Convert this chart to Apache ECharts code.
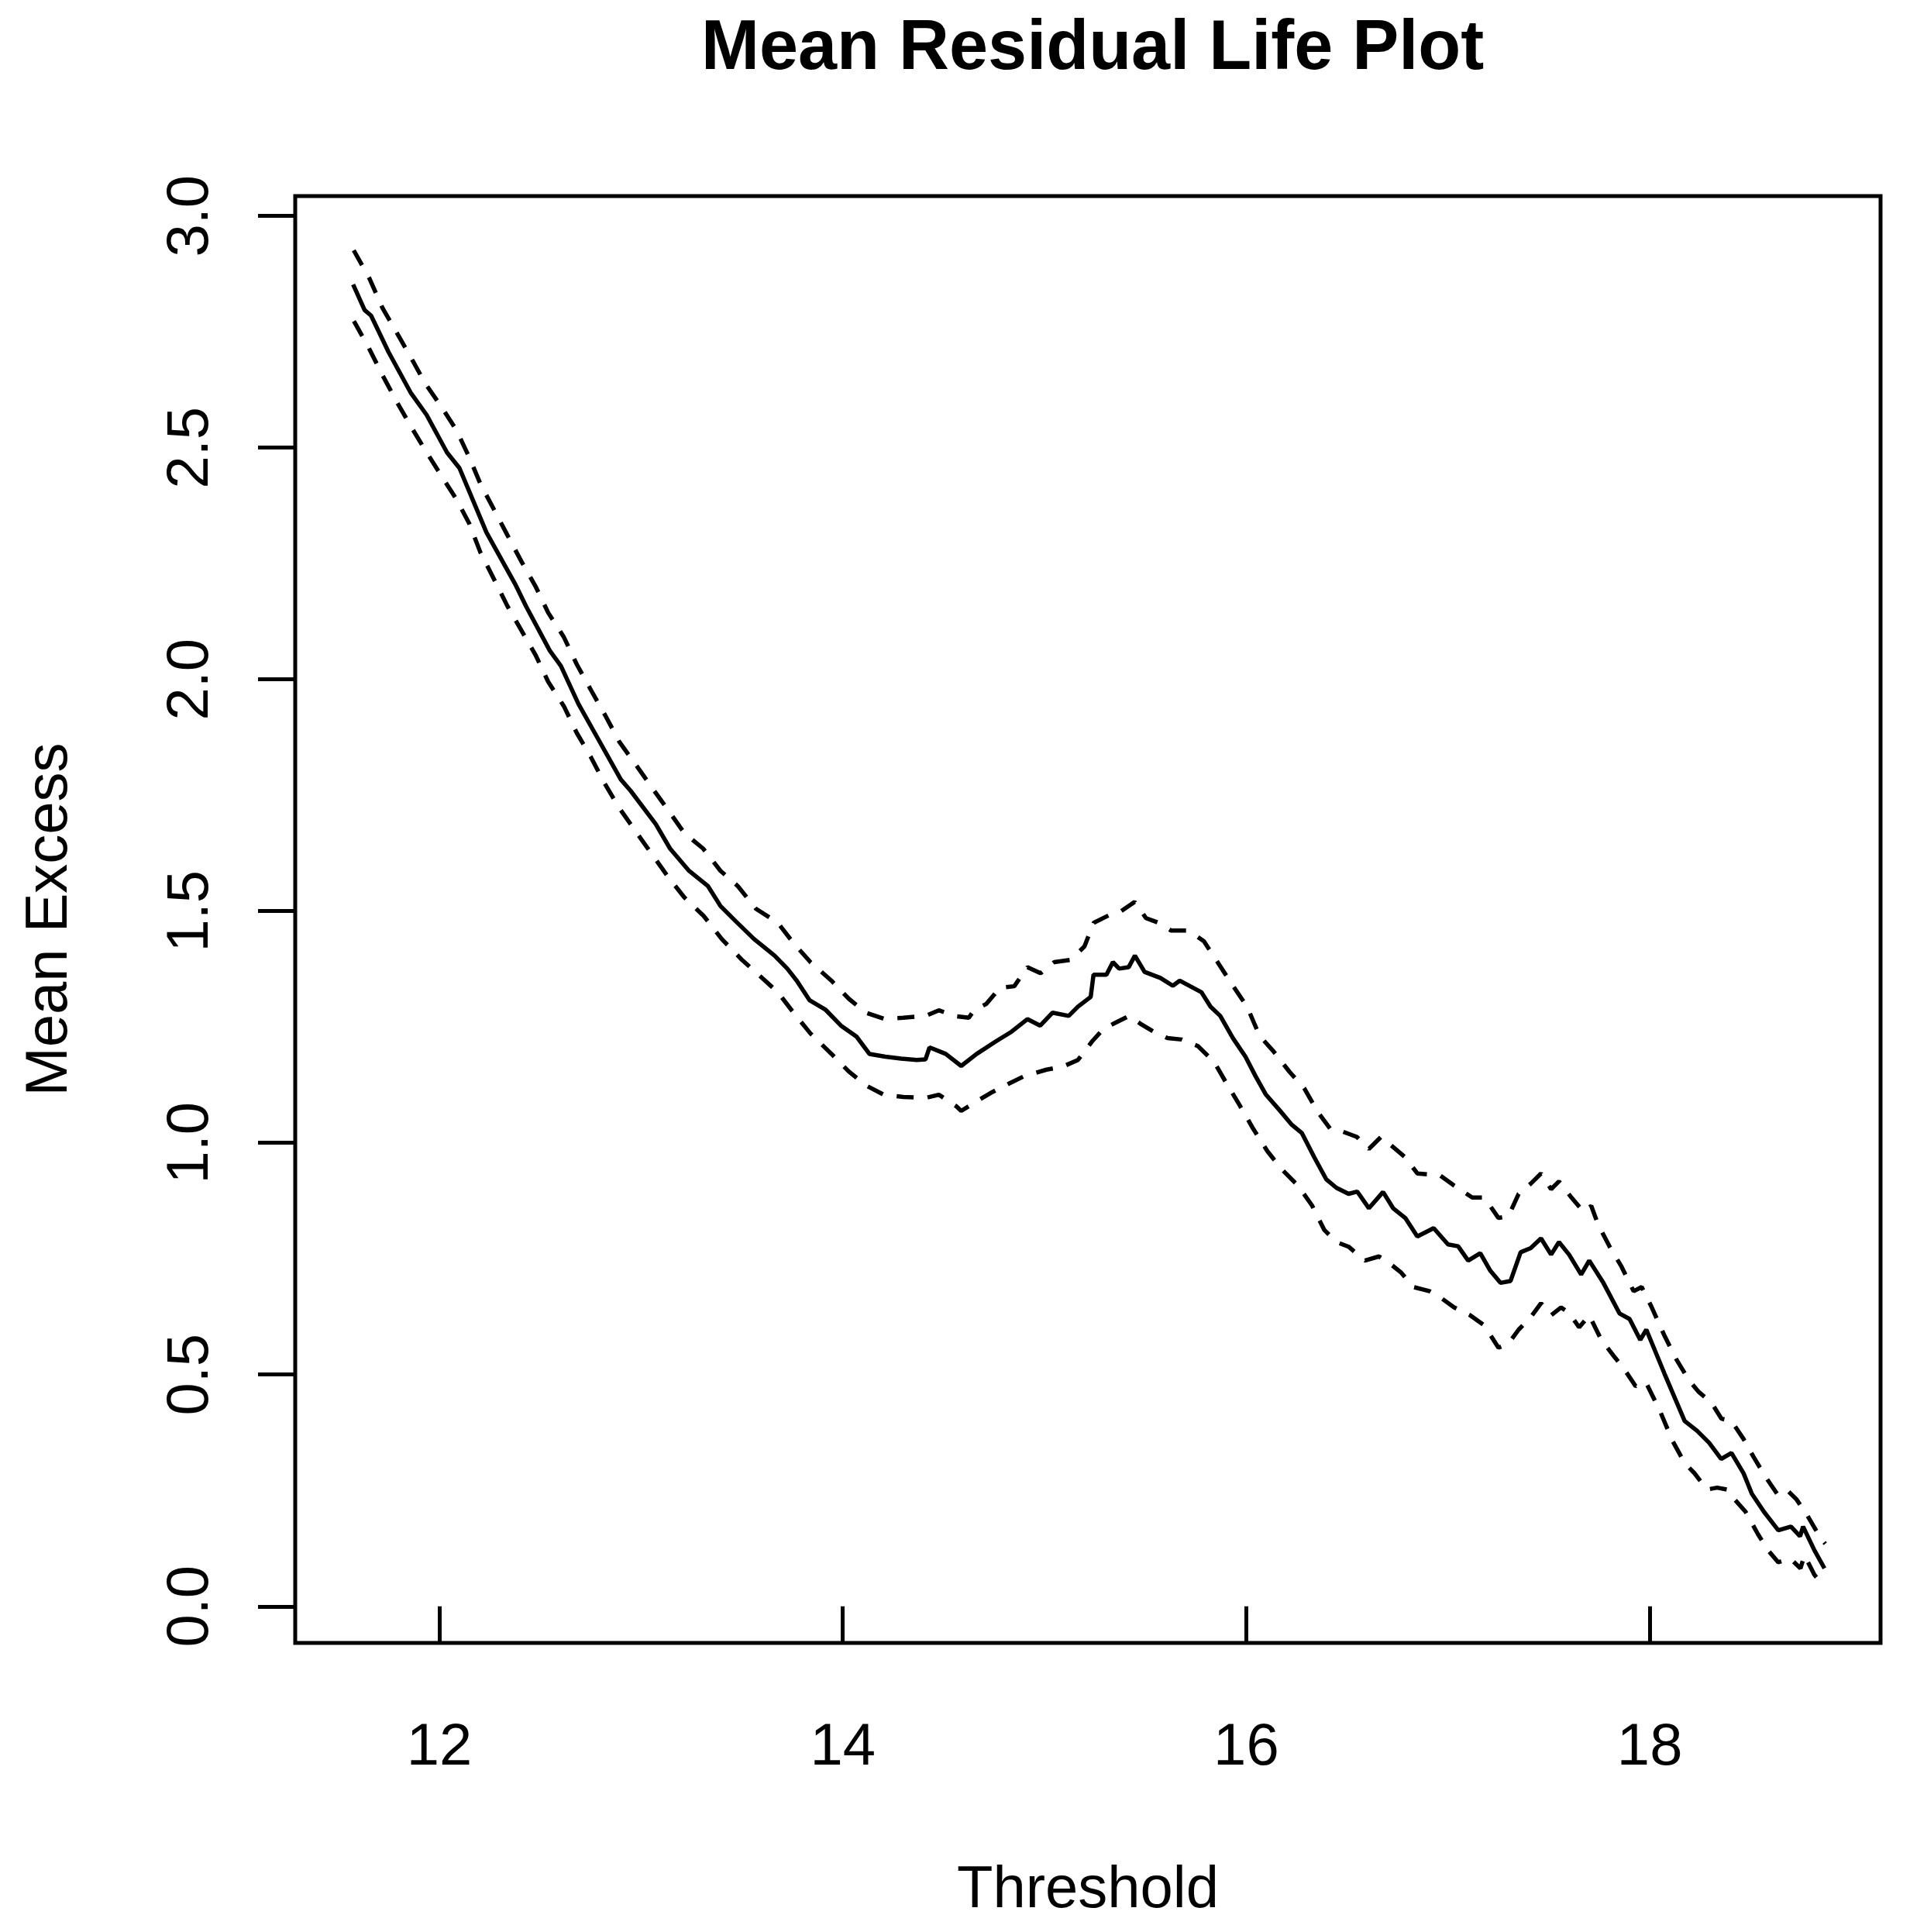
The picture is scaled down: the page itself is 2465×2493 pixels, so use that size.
<!DOCTYPE html>
<html>
<head>
<meta charset="utf-8">
<title>Mean Residual Life Plot</title>
<script src="https://cdn.jsdelivr.net/npm/echarts@6/dist/echarts.min.js"></script>
<style>
  html, body { margin: 0; padding: 0; background: #fff; }
  #chart { width: 2465px; height: 2493px; }
</style>
</head>
<body>
<div id="chart"></div>
<script>
// tick positions
var xTicks = [12, 14, 16, 18];
var yTicks = [0, 0.5, 1, 1.5, 2, 2.5, 3];

// mean excess (solid line)
var meanX = [11.573, 11.63, 11.662, 11.749, 11.858, 11.937, 12.038, 12.10, 12.234, 12.376, 12.43, 12.548, 12.603, 12.69, 12.783, 12.90, 12.948, 13.073, 13.144, 13.238, 13.332, 13.394, 13.47, 13.56,
  13.662, 13.725, 13.772, 13.835, 13.913, 13.991, 14.069, 14.132, 14.211, 14.289, 14.367, 14.41, 14.43, 14.51, 14.587, 14.664, 14.759, 14.837, 14.915, 14.979, 15.04, 15.12, 15.166, 15.229, 15.243, 15.307, 15.339, 15.37, 15.417, 15.448, 15.496, 15.574, 15.636, 15.67, 15.778, 15.823, 15.871, 15.934, 15.996,
  16.046, 16.096, 16.166, 16.226, 16.276, 16.337, 16.397, 16.447, 16.507, 16.55, 16.608, 16.678, 16.728, 16.788, 16.848, 16.929, 17.0, 17.05, 17.10, 17.16, 17.21, 17.26, 17.31, 17.36, 17.41, 17.461, 17.511, 17.55, 17.60, 17.66, 17.70, 17.77, 17.85, 17.90, 17.953, 17.983,
  18.073, 18.173, 18.234, 18.294, 18.354, 18.405, 18.465, 18.506, 18.566, 18.637, 18.70, 18.745, 18.76, 18.816, 18.866];
var meanY = [2.852, 2.797, 2.785, 2.706, 2.619, 2.571, 2.490, 2.456, 2.317, 2.206, 2.158, 2.062, 2.029, 1.947, 1.875, 1.784, 1.760, 1.688, 1.635, 1.587, 1.554, 1.511, 1.478, 1.440,
  1.404, 1.376, 1.350, 1.308, 1.288, 1.253, 1.229, 1.192, 1.186, 1.182, 1.179, 1.180, 1.206, 1.192, 1.166, 1.192, 1.219, 1.240, 1.267, 1.253, 1.281, 1.274, 1.294, 1.315, 1.363, 1.363, 1.390, 1.376, 1.379, 1.404, 1.369, 1.356, 1.339, 1.350, 1.325, 1.294, 1.274, 1.226, 1.186,
  1.144, 1.105, 1.070, 1.039, 1.021, 0.969, 0.921, 0.903, 0.890, 0.895, 0.859, 0.894, 0.859, 0.838, 0.798, 0.816, 0.781, 0.777, 0.746, 0.762, 0.724, 0.698, 0.702, 0.764, 0.773, 0.794, 0.759, 0.786, 0.759, 0.716, 0.746, 0.698, 0.632, 0.620, 0.575, 0.597,
  0.502, 0.400, 0.379, 0.353, 0.318, 0.331, 0.287, 0.243, 0.204, 0.164, 0.172, 0.151, 0.172, 0.121, 0.082];

// upper confidence bound (dashed)
var upperX = [11.576, 11.654, 11.718, 11.788, 11.858, 11.93, 12.008, 12.085, 12.149, 12.204, 12.273, 12.337, 12.408, 12.477, 12.54, 12.618, 12.681, 12.752, 12.822, 12.893, 12.971, 13.057, 13.136, 13.214, 13.308, 13.394, 13.48, 13.57,
  13.678, 13.756, 13.84, 13.944, 14.03, 14.115, 14.203, 14.30, 14.41, 14.476, 14.563, 14.625, 14.65, 14.712, 14.78, 14.85, 14.915, 14.98, 15.048, 15.13, 15.198, 15.244, 15.323, 15.37, 15.447, 15.503, 15.565, 15.628, 15.714, 15.79, 15.864, 15.934, 16.004,
  16.066, 16.136, 16.215, 16.287, 16.357, 16.417, 16.467, 16.548, 16.608, 16.668, 16.728, 16.788, 16.848, 16.96, 17.03, 17.12, 17.18, 17.25, 17.30, 17.35, 17.41, 17.461, 17.511, 17.55, 17.612, 17.672, 17.71, 17.743, 17.80, 17.86, 17.92, 17.96,
  18.01, 18.073, 18.133, 18.194, 18.244, 18.305, 18.355, 18.405, 18.465, 18.515, 18.576, 18.637, 18.687, 18.727, 18.777, 18.847, 18.87];
var upperY = [2.926, 2.865, 2.802, 2.749, 2.696, 2.639, 2.590, 2.538, 2.479, 2.422, 2.365, 2.312, 2.254, 2.201, 2.144, 2.091, 2.033, 1.977, 1.923, 1.865, 1.818, 1.765, 1.717, 1.669, 1.635, 1.587, 1.554, 1.505,
  1.475, 1.431, 1.390, 1.350, 1.311, 1.281, 1.268, 1.270, 1.274, 1.286, 1.273, 1.270, 1.286, 1.300, 1.335, 1.338, 1.379, 1.366, 1.390, 1.395, 1.424, 1.475, 1.492, 1.497, 1.520, 1.485, 1.475, 1.458, 1.458, 1.435, 1.386, 1.339, 1.294,
  1.231, 1.197, 1.153, 1.118, 1.065, 1.030, 1.026, 1.013, 0.987, 1.013, 0.991, 0.969, 0.934, 0.930, 0.908, 0.882, 0.882, 0.838, 0.842, 0.890, 0.912, 0.934, 0.900, 0.917, 0.882, 0.851, 0.864, 0.825, 0.777, 0.733, 0.680, 0.689,
  0.645, 0.584, 0.532, 0.488, 0.462, 0.440, 0.405, 0.400, 0.361, 0.322, 0.278, 0.239, 0.248, 0.231, 0.199, 0.147, 0.135];

// lower confidence bound (dashed)
var lowerX = [11.577, 11.65, 11.718, 11.788, 11.858, 11.93, 12.008, 12.085, 12.149, 12.204, 12.273, 12.337, 12.408, 12.477, 12.54, 12.618, 12.681, 12.752, 12.822, 12.893, 12.979, 13.057, 13.136, 13.214, 13.31, 13.40, 13.50, 13.59,
  13.678, 13.756, 13.84, 13.944, 14.03, 14.115, 14.203, 14.30, 14.41, 14.476, 14.563, 14.587, 14.665, 14.743, 14.82, 14.899, 15.01, 15.088, 15.166, 15.236, 15.292, 15.355, 15.42, 15.479, 15.54, 15.61, 15.68, 15.76, 15.84, 15.90, 15.965,
  16.035, 16.105, 16.176, 16.256, 16.326, 16.387, 16.447, 16.507, 16.588, 16.658, 16.708, 16.768, 16.828, 16.909, 16.97, 17.03, 17.11, 17.18, 17.25, 17.30, 17.35, 17.41, 17.461, 17.511, 17.56, 17.60, 17.65, 17.70, 17.76, 17.82, 17.87, 17.93, 17.98,
  18.05, 18.113, 18.173, 18.22, 18.284, 18.334, 18.384, 18.42, 18.475, 18.536, 18.586, 18.637, 18.697, 18.747, 18.767, 18.816, 18.866];
var lowerY = [2.773, 2.716, 2.657, 2.600, 2.547, 2.495, 2.441, 2.389, 2.336, 2.274, 2.215, 2.159, 2.105, 2.053, 1.995, 1.942, 1.885, 1.832, 1.774, 1.722, 1.669, 1.621, 1.573, 1.530, 1.490, 1.440, 1.395, 1.360,
  1.325, 1.281, 1.236, 1.192, 1.154, 1.124, 1.104, 1.099, 1.097, 1.104, 1.079, 1.069, 1.090, 1.110, 1.127, 1.144, 1.158, 1.164, 1.179, 1.219, 1.246, 1.260, 1.274, 1.256, 1.240, 1.226, 1.223, 1.209, 1.175, 1.130, 1.083,
  1.030, 0.982, 0.943, 0.908, 0.865, 0.812, 0.786, 0.776, 0.746, 0.755, 0.741, 0.720, 0.689, 0.680, 0.664, 0.645, 0.628, 0.606, 0.558, 0.567, 0.597, 0.624, 0.654, 0.628, 0.645, 0.633, 0.602, 0.628, 0.575, 0.541, 0.514, 0.475, 0.484,
  0.422, 0.357, 0.309, 0.288, 0.252, 0.256, 0.252, 0.231, 0.204, 0.156, 0.121, 0.095, 0.103, 0.082, 0.110, 0.068, 0.042];

function pairs(xs, ys) {
  return xs.map(function (x, i) { return [x, ys[i]]; });
}

var font = 'Liberation Sans, Arial, Helvetica, sans-serif';
var myChart = echarts.init(document.getElementById('chart'));

var option = {
  animation: false,
  backgroundColor: '#fff',
  title: {
    text: 'Mean Residual Life Plot',
    left: 900,
    top: 14,
    textStyle: { fontFamily: font, fontSize: 90, fontWeight: 'bold', color: '#000' }
  },
  grid: {
    left: 381, top: 253, width: 2046, height: 1867,
    show: true, borderColor: '#000', borderWidth: 5, backgroundColor: 'transparent'
  },
  xAxis: {
    type: 'value',
    min: 11.286, max: 19.144,
    name: 'Threshold',
    nameLocation: 'middle',
    nameGap: 282,
    nameTextStyle: { fontFamily: font, fontSize: 76, color: '#000' },
    splitLine: { show: false },
    axisLine: { show: false },
    axisTick: { show: true, customValues: xTicks, length: 48, lineStyle: { color: '#000', width: 5 } },
    axisLabel: { customValues: xTicks, margin: 98, fontFamily: font, fontSize: 76, color: '#000' }
  },
  yAxis: {
    type: 'value',
    min: -0.079, max: 3.043,
    name: 'Mean Excess',
    nameLocation: 'middle',
    nameGap: 278,
    nameTextStyle: { fontFamily: font, fontSize: 76, color: '#000' },
    splitLine: { show: false },
    axisLine: { show: false },
    axisTick: { show: true, customValues: yTicks, length: 48, lineStyle: { color: '#000', width: 5 } },
    axisLabel: {
      customValues: yTicks, rotate: 90, margin: 96,
      fontFamily: font, fontSize: 76, color: '#000',
      formatter: function (v) { return v.toFixed(1); }
    }
  },
  series: [
    {
      name: 'Mean Excess', type: 'line', data: pairs(meanX, meanY),
      showSymbol: false, smooth: false,
      lineStyle: { color: '#000', width: 5.5, type: 'solid' }
    },
    {
      name: 'Upper', type: 'line', data: pairs(upperX, upperY),
      showSymbol: false,
      lineStyle: { color: '#000', width: 5.5, type: [22, 18] }
    },
    {
      name: 'Lower', type: 'line', data: pairs(lowerX, lowerY),
      showSymbol: false,
      lineStyle: { color: '#000', width: 5.5, type: [22, 18] }
    }
  ]
};

myChart.setOption(option);
</script>
</body>
</html>
